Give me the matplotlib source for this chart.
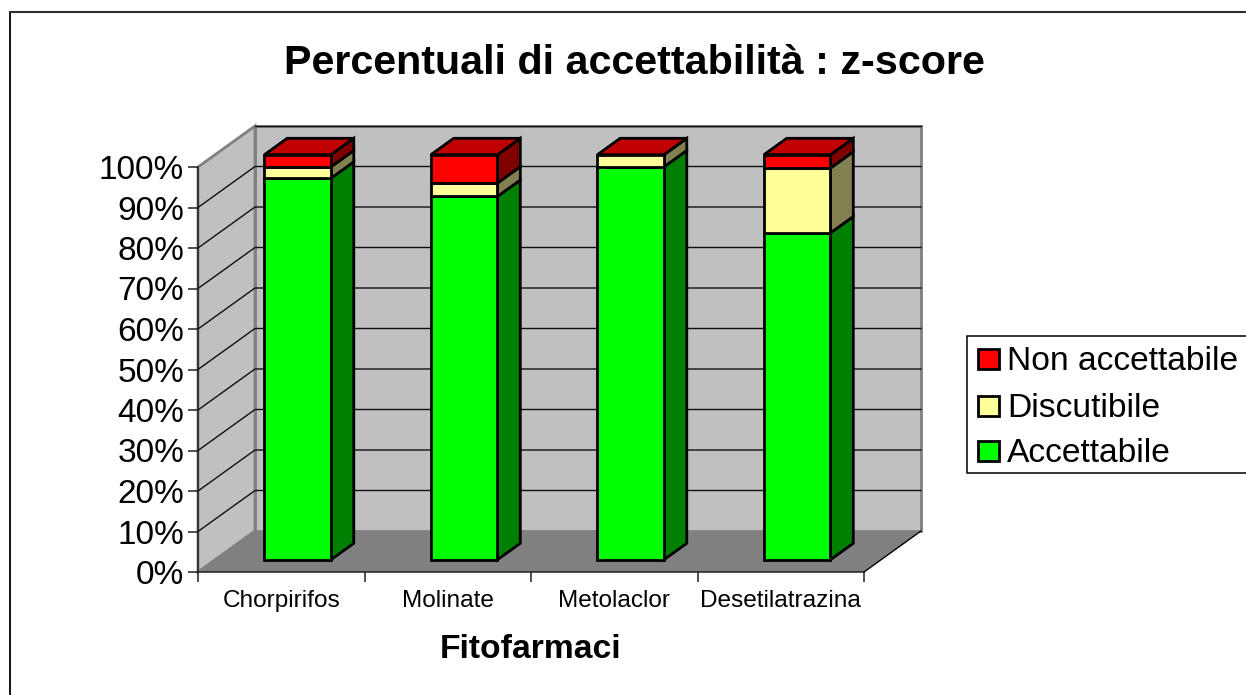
import matplotlib
matplotlib.use("Agg")
import matplotlib.pyplot as plt
from matplotlib.patches import Polygon, Rectangle

plt.rcParams['font.family'] = ['Liberation Sans', 'DejaVu Sans']

# data
categories = ['Chorpirifos', 'Molinate', 'Metolaclor', 'Desetilatrazina']
accettabile = [94.2, 89.7, 97.0, 80.7]
discutibile = [2.8, 3.3, 3.0, 16.0]
non_accettabile = [3.0, 7.0, 0.0, 3.3]
series_names = ['Accettabile', 'Discutibile', 'Non accettabile']
yticks = [0, 10, 20, 30, 40, 50, 60, 70, 80, 90, 100]

W, H = 1246, 695
fig = plt.figure(figsize=(W / 100, H / 100), dpi=100, facecolor='white')

# whole figure overlay for the frame, only top and left edges show
bg = fig.add_axes([0, 0, 1, 1])
bg.set_xlim(0, W)
bg.set_ylim(H, 0)
bg.axis('off')
bg.plot([9.5, 9.5], [11, H], color='black', lw=1.3, solid_capstyle='butt')
bg.plot([8.5, W], [12, 12], color='#303030', lw=1.5, solid_capstyle='butt')

# axes sits on the front plane of the 3d box
left, right, bottom, top = 198, 864, 572, 167
ax = fig.add_axes([left / W, 1 - bottom / H, (right - left) / W, (bottom - top) / H])
ax.set_xlim(0, 4)
ax.set_ylim(0, 100)
ax.patch.set_visible(False)

# depth of the box in data units
DX = 57 / ((right - left) / 4)
DY = 41 / ((bottom - top) / 100)


def proj(x, y, t):
    # oblique projection, t=0 front plane, t=1 back wall
    return (x + DX * t, y + DY * t)


def poly(points, **kw):
    ax.add_patch(Polygon(points, closed=True, clip_on=False, **kw))


wall = '#C0C0C0'
edge_gray = '#808080'

# back wall, side wall, floor
poly([proj(0, 0, 1), proj(4, 0, 1), proj(4, 100, 1), proj(0, 100, 1)], fc=wall, ec=edge_gray, lw=2, zorder=1)
poly([proj(0, 0, 0), proj(0, 0, 1), proj(0, 100, 1), proj(0, 100, 0)], fc=wall, ec=edge_gray, lw=2, zorder=1)
poly([proj(0, 0, 0), proj(4, 0, 0), proj(4, 0, 1), proj(0, 0, 1)], fc=edge_gray, ec='none', zorder=1.5)

# gridlines on the two walls
for v in yticks[1:]:
    xs = [proj(0, v, 0)[0], proj(0, v, 1)[0], proj(4, v, 1)[0]]
    ys = [proj(0, v, 0)[1], proj(0, v, 1)[1], proj(4, v, 1)[1]]
    if v == 100:
        xs, ys = xs[1:], ys[1:]
    ax.plot(xs, ys, color='#101010', lw=1.0, clip_on=False, zorder=2)

# floor right edge
ax.plot([proj(4, 0, 0)[0], proj(4, 0, 1)[0]], [proj(4, 0, 0)[1], proj(4, 0, 1)[1]],
        color='black', lw=1.0, clip_on=False, zorder=2)

# bars, each segment is a front face and a side face, the top cap is always the last series
colors = [('#00FF00', '#008000', '#00C000'),
          ('#FFFF99', '#808050', '#C0C070'),
          ('#FF0000', '#800000', '#C00000')]
bar_w = 0.4
t0, t1 = 0.3, 0.7
for i in range(len(categories)):
    x0 = i + 0.5 - bar_w / 2 - 0.004
    x1 = i + 0.5 + bar_w / 2 - 0.004
    base = 0
    segs = [accettabile[i], discutibile[i], non_accettabile[i]]
    for j, val in enumerate(segs):
        if val <= 0:
            continue
        tp = base + val
        front, side, _ = colors[j]
        poly([proj(x0, base, t0), proj(x1, base, t0), proj(x1, tp, t0), proj(x0, tp, t0)],
             fc=front, ec='black', lw=2.0, joinstyle='miter', zorder=4)
        poly([proj(x1, base, t0), proj(x1, base, t1), proj(x1, tp, t1), proj(x1, tp, t0)],
             fc=side, ec='black', lw=2.0, joinstyle='miter', zorder=3)
        base = tp
    poly([proj(x0, base, t0), proj(x1, base, t0), proj(x1, base, t1), proj(x0, base, t1)],
         fc=colors[2][2], ec='black', lw=2.0, joinstyle='miter', zorder=3.5)

# axes furniture
for s in ['top', 'right']:
    ax.spines[s].set_visible(False)
for s in ['left', 'bottom']:
    ax.spines[s].set_color('#202020')
    ax.spines[s].set_linewidth(1.1)
    ax.spines[s].set_zorder(2.5)
ax.set_yticks(yticks)
ax.set_yticklabels([f'{v}%' for v in yticks], fontsize=24)
ax.set_xticks(range(5))
ax.set_xticklabels([])
ax.set_xticks([i + 0.5 for i in range(4)], minor=True)
ax.set_xticklabels(categories, minor=True, fontsize=17.6)
ax.tick_params(axis='y', length=7, width=1.1, pad=3, color='#202020', colors='black')
ax.tick_params(axis='x', which='major', length=7, width=1.1, color='#202020')
ax.tick_params(axis='x', which='minor', length=0, pad=13)
ax.set_xlabel('Fitofarmaci', fontsize=24.2, fontweight='bold', labelpad=15.5)

fig.text(634.5 / W, 1 - 63 / H, 'Percentuali di accettabilità : z-score', fontsize=29.7,
         fontweight='bold', ha='center', va='center')

# legend box runs off the right side of the figure
bg.add_patch(Rectangle((967, 335.5), W, 137.5, fc='white', ec='black', lw=1.1, zorder=5))
legend_y = [359, 405.5, 451]
for name, c, ly in zip(reversed(series_names), reversed(colors), legend_y):
    bg.add_patch(Rectangle((978, ly - 10), 21, 20, fc=c[0], ec='black', lw=2.0, zorder=6))
    bg.text(1007, ly + 3, name, fontsize=24.2, va='center', ha='left', zorder=6)

fig.savefig('out.png', dpi=100)
